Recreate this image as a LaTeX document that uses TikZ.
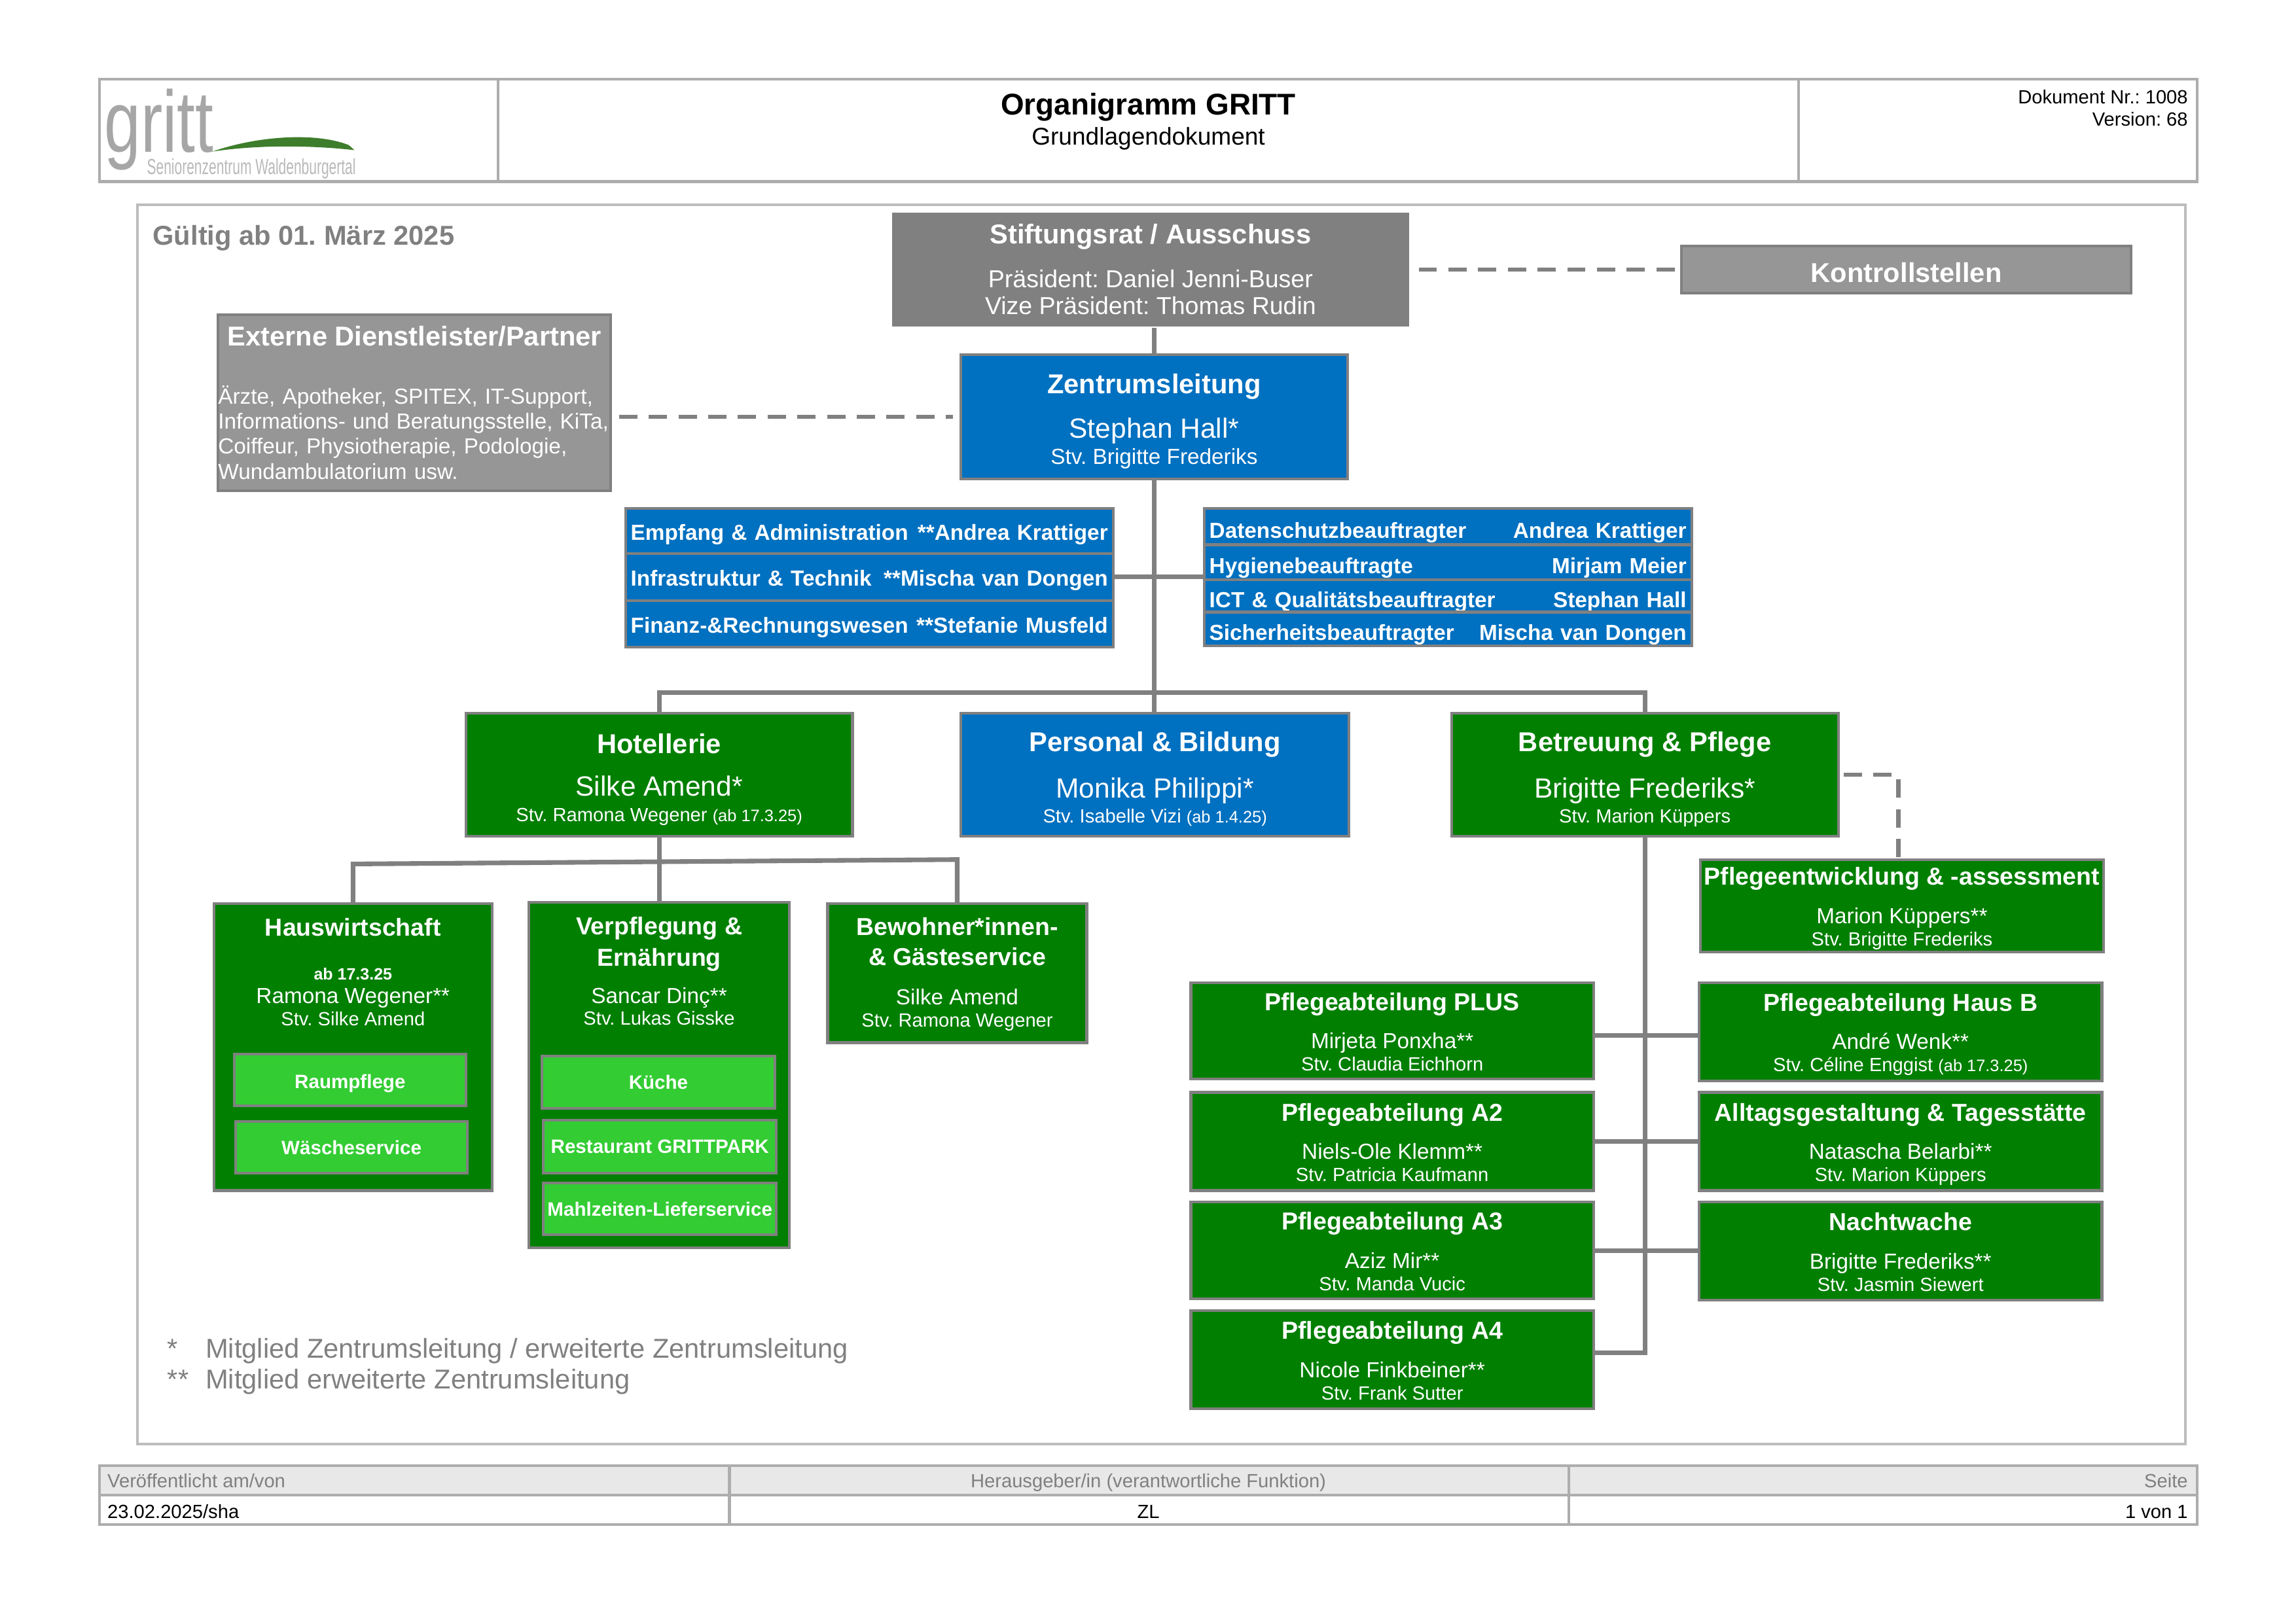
\documentclass[tikz,border=0pt]{standalone}
\usepackage{fontspec}
\setmainfont{Liberation Sans}
\frenchspacing
\usetikzlibrary{positioning}
\definecolor{orggray}{HTML}{808080}
\definecolor{extgray}{HTML}{969696}
\definecolor{orgblue}{HTML}{0070C0}
\definecolor{orggreen}{HTML}{007F00}
\definecolor{sublime}{HTML}{33CC33}
\definecolor{framegray}{HTML}{BDBDBD}
\definecolor{headgray}{HTML}{ADADAD}
\definecolor{hillgreen}{HTML}{3E7D2B}
\newcommand{\fs}[1]{\fontsize{#1}{8}\selectfont}
\newcommand{\orgbox}[7]{%
    \pgfmathsetmacro\bw{(#5-#3)*0.5372}
    \pgfmathsetmacro\bh{(#6-#4)*0.5372}
    \node[#1, minimum width=\bw pt, minimum height=\bh pt] (#2) at ({(#3+#5)/2},{(#4+#6)/2}) {#7};
}
\newcommand{\lowend}{\rule[-1.5pt]{0pt}{1.5pt}}
\newcommand{\bigtxt}[3]{\rule{0pt}{10.8pt}{\fs{10}\bfseries #1}\\[6.5pt]{\fs{10.2}#2}\\{\fs{7}#3}\lowend}
\newcommand{\midtxt}[3]{\rule{0pt}{8.6pt}{\fs{9}\bfseries #1}\\[6pt]{\fs{8}#2}\\{\fs{7}#3}\lowend}
\newcommand{\rowtxt}[3][10.2pt]{\rule[-1.7pt]{0pt}{#1}#2\hfill #3}
\tikzset{
    orgbase/.style={draw=orggray, line width=1pt, text=white, inner sep=0pt, align=center},
    greybox/.style={orgbase, fill=orggray, draw=none, font=\fontsize{9}{10}\selectfont},
    extbox/.style={orgbase, fill=extgray, align=left, text width=144pt, font=\fontsize{8}{9.2}\selectfont},
    ctrlbox/.style={orgbase, fill=extgray, font=\fontsize{10}{11}\bfseries\selectfont},
    bluebox/.style={orgbase, fill=orgblue, font=\fontsize{8}{9.4}\selectfont},
    greenbox/.style={orgbase, fill=orggreen, font=\fontsize{8}{9.2}\selectfont},
    deptblue/.style={greenbox, fill=orgblue},
    wardbox/.style={orgbase, fill=orggreen, font=\fontsize{8}{8.1}\selectfont},
    limebox/.style={orgbase, fill=sublime, font=\fontsize{7.1}{8}\bfseries\selectfont},
    rowbox/.style={orgbase, fill=orgblue, align=left, text width=175pt, font=\fontsize{8}{9}\bfseries\selectfont},
    conn/.style={draw=orggray, line width=1.7pt},
    dashconn/.style={draw=orggray, line width=1.5pt, dash pattern=on 6.7pt off 4.2pt},
    frame/.style={draw=headgray, line width=1pt},
    plain/.style={inner sep=0pt, font=\fontsize{7}{8}\selectfont},
}
\begin{document}
\begin{tikzpicture}[x=0.5372pt,y=-0.5372pt]
    \useasboundingbox (0,0) rectangle (1567.5,1108.6);
    % head and foot
    \draw[frame] (68,54) rectangle (1500,124);
    \draw[frame] (340,54) -- (340,124);
    \draw[frame] (1228,54) -- (1228,124);
    \draw[draw=framegray, line width=1pt] (94,140) rectangle (1492,986);
    \fill[gray!18] (68,1001) rectangle (1500,1021);
    \draw[frame] (68,1001) rectangle (1500,1041);
    \draw[frame] (68,1021) -- (1500,1021);
    \draw[frame] (498,1001) -- (498,1041);
    \draw[frame] (1071,1001) -- (1071,1041);
    % logo
    \node[inner sep=0pt, text=gray!70, font=\fontsize{32}{32}\selectfont, anchor=base west] (logo) at (71,104) {\scalebox{.75}[1]{gritt}};
    \node[inner sep=0pt, text=gray!55, font=\fontsize{8}{9}\selectfont, anchor=base west] (logosub) at (100,119) {\scalebox{.63}[1]{Seniorenzentrum Waldenburgertal}};
    \fill[hillgreen] (145,103.5) .. controls (175,93) and (215,90) .. (238,99) -- (242,102.5) .. controls (210,99) and (175,99) .. (145,103.5);
    \node[inner sep=0pt, font=\fontsize{11}{13}\bfseries\selectfont] (title) at (784,73) {Organigramm GRITT};
    \node[inner sep=0pt, font=\fontsize{8.9}{11}\selectfont] (subtitle) at (784,94.5) {Grundlagendokument};
    \node[plain, anchor=base east] (docnr) at (1494,71) {Dokument Nr.: 1008};
    \node[plain, anchor=base east] (docver) at (1494,86) {Version: 68};
    \node[plain, anchor=base west, text=orggray] (pubh) at (73,1016) {Veröffentlicht am/von};
    \node[plain, anchor=base, text=orggray] (edith) at (784,1016) {Herausgeber/in (verantwortliche Funktion)};
    \node[plain, anchor=base east, text=orggray] (pageh) at (1494,1016) {Seite};
    \node[plain, anchor=base west] (pubv) at (73,1037) {23.02.2025/sha};
    \node[plain, anchor=base] (editv) at (784,1037) {ZL};
    \node[plain, anchor=base east] (pagev) at (1494,1037) {1 von 1};
    \node[inner sep=0pt, text=orggray, anchor=base west, font=\fontsize{10}{12}\bfseries\selectfont] (valid) at (104,167.5) {Gültig ab 01. März 2025};
    \node[inner sep=0pt, text=orggray, anchor=base west, font=\fontsize{10}{12}\selectfont] (star1) at (114,927.5) {*};
    \node[inner sep=0pt, text=orggray, anchor=base west, font=\fontsize{10}{12}\selectfont] (note1) at (140,927.5) {Mitglied Zentrumsleitung / erweiterte Zentrumsleitung};
    \node[inner sep=0pt, text=orggray, anchor=base west, font=\fontsize{10}{12}\selectfont] (star2) at (114,948.5) {**};
    \node[inner sep=0pt, text=orggray, anchor=base west, font=\fontsize{10}{12}\selectfont] (note2) at (140,948.5) {Mitglied erweiterte Zentrumsleitung};
    % top of the tree
    \orgbox{greybox}{board}{609}{145}{962}{223}{{\fs{10}\bfseries Stiftungsrat / Ausschuss}\\[6pt]Präsident: Daniel Jenni-Buser\\Vize Präsident: Thomas Rudin}
    \orgbox{ctrlbox}{ctrl}{1148}{168}{1455}{200}{\rule{0pt}{9.4pt}Kontrollstellen}
    \orgbox{extbox}{ext}{149}{215}{417}{335}{\makebox[144pt]{\fs{10}\bfseries Externe Dienstleister/Partner}\\[12pt]Ärzte, Apotheker, SPITEX, IT-Support,\\Informations- und Beratungsstelle, KiTa,\\Coiffeur, Physiotherapie, Podologie,\\Wundambulatorium usw.}
    \orgbox{bluebox}{lead}{656}{242}{920}{327}{\rule{0pt}{10.5pt}{\fs{10}\bfseries Zentrumsleitung}\\[6pt]{\fs{10.2}Stephan Hall*}\\{\fs{8}Stv. Brigitte Frederiks}\lowend}
    % staff rows
    \foreach \nm/\yt/\yb/\lft/\rgt in {emp/347/378/Empfang \& Administration/**Andrea Krattiger,inf/378/410/Infrastruktur \& Technik/**Mischa van Dongen,fin/410/442/Finanz-\&Rechnungswesen/**Stefanie Musfeld}{%
        \orgbox{rowbox}{\nm}{427}{\yt}{760}{\yb}{\rowtxt{\lft}{\rgt}}
    }
    \foreach \nm/\yt/\yb/\lft/\rgt in {dsb/347/372/Datenschutzbeauftragter/Andrea Krattiger,hyg/372/396/Hygienebeauftragte/Mirjam Meier,ict/396/418/ICT \& Qualitätsbeauftragter/Stephan Hall,sib/418/441/Sicherheitsbeauftragter/Mischa van Dongen}{%
        \orgbox{rowbox}{\nm}{822}{\yt}{1155}{\yb}{\rowtxt[11.8pt]{\lft}{\rgt}}
    }
    % departments
    \orgbox{greenbox}{hotel}{318}{487}{582}{571}{\bigtxt{Hotellerie}{Silke Amend*}{Stv. Ramona Wegener {\fs{6.1}(ab 17.3.25)}}}
    \orgbox{deptblue}{staff}{656}{487}{921}{571}{\bigtxt{Personal \& Bildung}{Monika Philippi*}{Stv. Isabelle Vizi {\fs{6.1}(ab 1.4.25)}}}
    \orgbox{greenbox}{care}{991}{487}{1255}{571}{\bigtxt{Betreuung \& Pflege}{Brigitte Frederiks*}{Stv. Marion Küppers}}
    % hotel side
    \orgbox{wardbox}{haus}{146}{617}{336}{813}{{\fs{9}\bfseries Hauswirtschaft}\\[8pt]{\fs{6}\bfseries ab 17.3.25}\\[.5pt]Ramona Wegener**\\{\fs{7}Stv. Silke Amend}\\[47pt]\mbox{}}
    \orgbox{wardbox}{verpf}{361}{616}{539}{852}{{\fs{9}\bfseries Verpflegung \&}\\[2pt]{\fs{9}\bfseries Ernährung}\\[5.5pt]Sancar Dinç**\\{\fs{7}Stv. Lukas Gisske}\\[68pt]\mbox{}}
    \orgbox{wardbox}{bew}{565}{617}{742}{712}{\rule{0pt}{7.5pt}{\fs{9}\bfseries Bewohner*innen-}\\[2.8pt]{\fs{9}\bfseries \& Gästeservice}\\[6.5pt]Silke Amend\\{\fs{7}Stv. Ramona Wegener}}
    \foreach \nm/\xl/\yt/\xr/\yb/\ttl in {raum/160/720/318/755/\rule{0pt}{7.5pt}Raumpflege,wasch/161/766/319/801/Wäscheservice,kueche/370/721/529/757/Küche,rest/371/765/530/801/Restaurant GRITTPARK,mahl/371/808/530/843/Mahlzeiten-Lieferservice}{%
        \orgbox{limebox}{\nm}{\xl}{\yt}{\xr}{\yb}{\ttl}
    }
    % care side
    \orgbox{wardbox}{pent}{1161}{587}{1436}{650}{\midtxt{Pflegeentwicklung \& -assessment}{Marion Küppers**}{Stv. Brigitte Frederiks}}
    \foreach \nm/\yt/\yb/\ttl/\who/\stv in {plus/671/737/Pflegeabteilung PLUS/Mirjeta Ponxha**/Stv. Claudia Eichhorn,atwo/746/813/Pflegeabteilung A2/Niels-Ole Klemm**/Stv. Patricia Kaufmann,athree/821/887/Pflegeabteilung A3/Aziz Mir**/Stv. Manda Vucic,afour/895/962/Pflegeabteilung A4/Nicole Finkbeiner**/Stv. Frank Sutter}{%
        \orgbox{wardbox}{\nm}{813}{\yt}{1088}{\yb}{\midtxt{\ttl}{\who}{\stv}}
    }
    \foreach \nm/\yt/\yb/\ttl/\who/\stv in {hausb/671/738/Pflegeabteilung Haus B/André Wenk**/Stv. Céline Enggist {\fs{6.1}(ab 17.3.25)},alltag/746/813/Alltagsgestaltung \& Tagesstätte/Natascha Belarbi**/Stv. Marion Küppers,nacht/821/888/Nachtwache/Brigitte Frederiks**/Stv. Jasmin Siewert}{%
        \orgbox{wardbox}{\nm}{1160}{\yt}{1435}{\yb}{\midtxt{\ttl}{\who}{\stv}}
    }
    % connectors
    \coordinate (treetop) at (788,473);
    \coordinate (hleft) at (241,590);
    \coordinate (hright) at (653.5,587);
    \coordinate (carebend) at (1296,529);
    \coordinate (careend) at (1123,924);
    \draw[conn] (board.south -| lead.north) -- (lead.north);
    \draw[conn] (lead.south) -- (lead.south |- staff.north);
    \draw[conn] (hotel.north) -- (hotel.north |- treetop) -- (care.north |- treetop) -- (care.north);
    \draw[conn] (inf.east) -- (inf.east -| dsb.west);
    \draw[conn] (hotel.south) -- (verpf.north);
    \draw[conn] (haus.north) -- (hleft) -- (hright) -- (bew.north);
    \draw[conn] (care.south) -- (careend) -- (afour.east |- careend);
    \draw[conn] ([yshift=-1.6pt]plus.east) -- ([yshift=-1.6pt]plus.east -| hausb.west);
    \draw[conn] (atwo.east) -- (alltag.west);
    \draw[conn] (athree.east) -- (athree.east -| nacht.west);
    \draw[dashconn] ([xshift=3pt]board.east |- ctrl.west) -- (ctrl.west);
    \draw[dashconn] ([xshift=2.5pt]ext.east |- lead.west) -- ([xshift=-2.5pt]lead.west);
    \draw[dashconn] ([xshift=1.5pt]care.east) -- (carebend) -- (pent.north -| carebend);
\end{tikzpicture}
\end{document}
